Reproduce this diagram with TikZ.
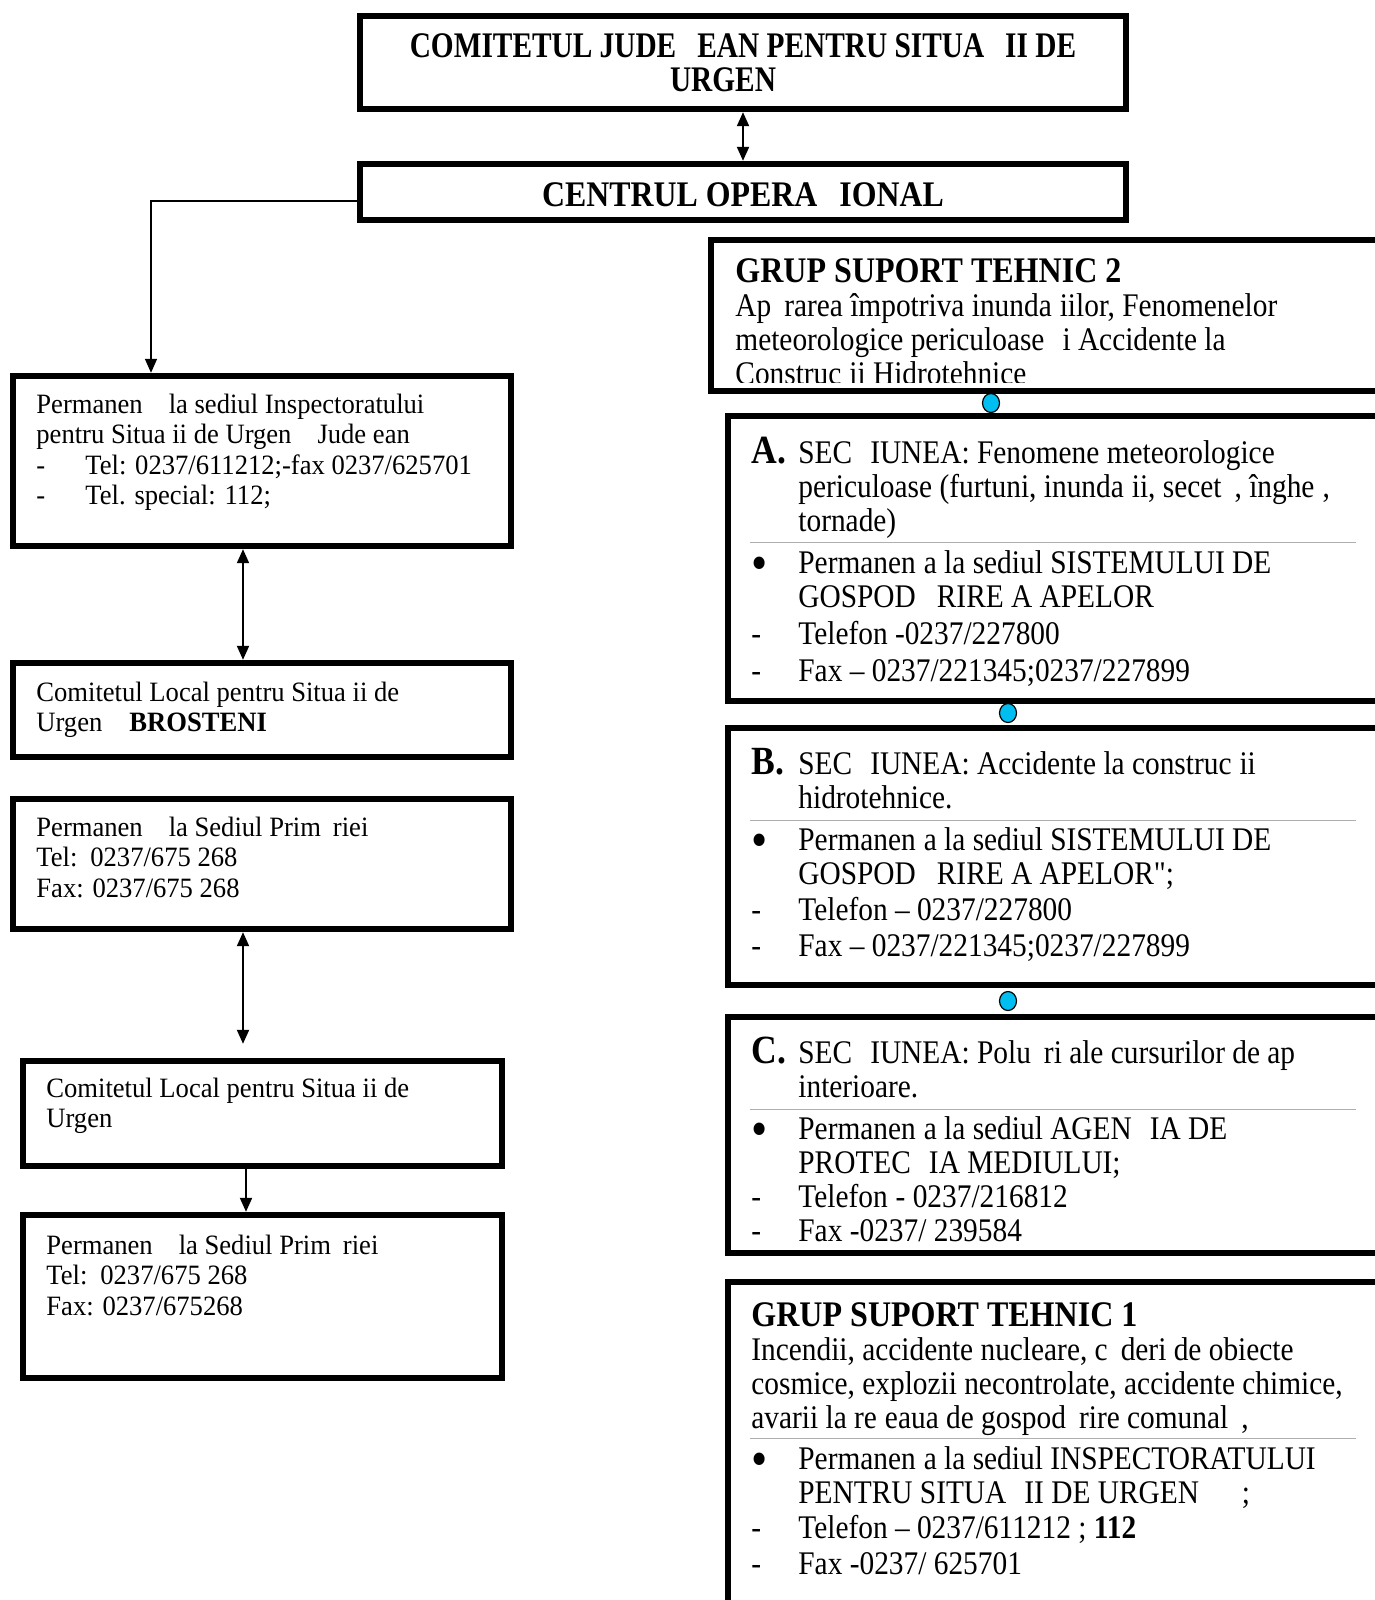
\documentclass[tikz,border=0pt]{standalone}
\usepackage{fontspec}
\setmainfont{Liberation Serif}
\newfontfamily\lfont[FakeStretch=0.95]{Liberation Serif}
\newfontfamily\rfont[FakeStretch=0.89]{Liberation Serif}
\newfontfamily\hfont[FakeStretch=0.89]{Liberation Serif}
\newfontfamily\tfont[FakeStretch=0.815]{Liberation Serif}
\newfontfamily\cfont[FakeStretch=0.885]{Liberation Serif}
\usetikzlibrary{arrows.meta,fit,shapes.geometric}
\newlength\px \setlength\px{0.5pt}
\newcommand\Li[1]{\hbox{#1}}
\newcommand\gp[1]{\hspace*{#1\px}}
\newcommand\headf{\hfont\bfseries\fontsize{18pt}{17pt}\selectfont}
\newcommand\bigA{\hfont\bfseries\fontsize{20pt}{17pt}\selectfont}
\newcommand\bul{\makebox[47\px][l]{\raisebox{-3.9pt}{\fontsize{26pt}{26pt}\selectfont •}}}
\newcommand\dsh{\makebox[47\px][l]{-}}
\newcommand\ldsh{\makebox[49\px][l]{-}}
\definecolor{dotblue}{RGB}{0,190,240}
\definecolor{sepgray}{RGB}{175,175,175}
\tikzset{
 boxframe/.style={draw=black, line width=3.2pt, inner sep=0pt},
 ltxt/.style={anchor=base west, inner sep=0pt, font=\lfont\fontsize{14pt}{15.3pt}\selectfont},
 rtxt/.style={anchor=base west, inner sep=0pt, font=\rfont\fontsize{16.5pt}{17pt}\selectfont},
 htxt/.style={align=center, inner sep=0pt},
 cdot/.style={ellipse, draw=black, line width=0.6pt, fill=dotblue, minimum width=8.5pt, minimum height=9.5pt, inner sep=0pt},
 sepline/.style={draw=sepgray, line width=0.5pt},
 conn/.style={line width=1pt, -{Triangle[width=6pt,length=7pt]}},
 conn2/.style={line width=1pt, {Triangle[width=6pt,length=7pt]}-{Triangle[width=6pt,length=7pt]}},
 thinl/.style={line width=0.75pt},
}
\begin{document}
\begin{tikzpicture}[x=0.5pt,y=-0.5pt]
\useasboundingbox (0,0) rectangle (1375,1600);
\clip (0,0) rectangle (1375,1600);
\fill[white] (0,0) rectangle (1375,1600);

% top boxes
\node[boxframe, fit={(360,16) (1126,109)}] (t) {};
\node[htxt, font=\tfont\bfseries\fontsize{18pt}{17pt}\selectfont] (tt) at (t.center) {COMITETUL JUDE\gp{21}EAN PENTRU SITUA\gp{21}II DE\\URGEN\gp{40}};
\node[boxframe, fit={(360,164) (1126,220)}] (c) {};
\node[htxt, font=\cfont\bfseries\fontsize{18pt}{17pt}\selectfont] (ct) at ([yshift=-1.5pt]c.center) {CENTRUL OPERA\gp{22}IONAL};

% left boxes
\node[boxframe, fit={(13,376) (511,546)}] (L1) {};
\node[boxframe, fit={(13,663) (511,757)}] (L2) {};
\node[boxframe, fit={(13,799) (511,929)}] (L3) {};
\node[boxframe, fit={(23,1061) (502,1166)}] (L4) {};
\node[boxframe, fit={(23,1215) (502,1378)}] (L5) {};

\node[ltxt] (L1t) at (36,413) {\vtop{\Li{Permanen\gp{26}la sediul Inspectoratului}\Li{pentru Situa ii de Urgen\gp{26}Jude ean}\Li{\ldsh Tel: 0237/611212;-fax 0237/625701}\Li{\ldsh Tel. special: 112;}}};
\node[ltxt] (L2t) at (36,701) {\vtop{\Li{Comitetul Local pentru Situa ii de}\Li{Urgen\gp{27}\textbf{BROSTENI}}}};
\node[ltxt] (L3t) at (36,836) {\vtop{\Li{Permanen\gp{26}la Sediul Prim\gp{12}riei}\Li{Tel:\gp{13}0237/675 268}\Li{Fax: 0237/675 268}}};
\node[ltxt] (L4t) at (46,1097) {\vtop{\Li{Comitetul Local pentru Situa ii de}\Li{Urgen}}};
\node[ltxt] (L5t) at (46,1254) {\vtop{\Li{Permanen\gp{26}la Sediul Prim\gp{12}riei}\Li{Tel:\gp{13}0237/675 268}\Li{Fax: 0237/675268}}};

% right boxes
\node[boxframe, fit={(711,240) (1420,391)}] (G2) {};
\node[boxframe, fit={(728,416) (1420,701)}] (A) {};
\node[boxframe, fit={(728,728) (1420,985)}] (B) {};
\node[boxframe, fit={(728,1017) (1420,1253)}] (C) {};
\node[boxframe, fit={(728,1282) (1420,1720)}] (G1) {};

\begin{scope}
\clip (700,240) rectangle (1375,382);
\node[rtxt] (G2t) at (735,282) {\vtop{\Li{\headf GRUP SUPORT TEHNIC 2}\Li{Ap\gp{13}rarea împotriva inunda\gp{8}iilor, Fenomenelor}\Li{meteorologice periculoase\gp{18}i Accidente la}\Li{Construc\gp{8}ii Hidrotehnice}}};
\end{scope}

\node[rtxt] (At) at (751,463) {\vtop{\Li{\makebox[47\px][l]{\bigA A.}SEC\gp{18}IUNEA: Fenomene meteorologice}\Li{\gp{47}periculoase (furtuni, inunda\gp{8}ii, secet\gp{13}, înghe\gp{8},}\Li{\gp{47}tornade)}}};
\node[rtxt] (Al) at (751,573) {\vtop{\Li{\bul Permanen\gp{8}a la sediul SISTEMULUI DE}\Li{\gp{47}GOSPOD\gp{21}RIRE A APELOR}\vskip1.5pt\Li{\dsh Telefon -0237/227800}\vskip1.5pt\Li{\dsh Fax – 0237/221345;0237/227899}}};

\node[rtxt] (Bt) at (751,774) {\vtop{\Li{\makebox[47\px][l]{\bigA B.}SEC\gp{18}IUNEA: Accidente la construc\gp{8}ii}\Li{\gp{47}hidrotehnice.}}};
\node[rtxt] (Bl) at (751,850) {\vtop{\Li{\bul Permanen\gp{8}a la sediul SISTEMULUI DE}\Li{\gp{47}GOSPOD\gp{21}RIRE A APELOR";}\vskip1pt\Li{\dsh Telefon – 0237/227800}\vskip1pt\Li{\dsh Fax – 0237/221345;0237/227899}}};

\node[rtxt] (Ct) at (751,1063) {\vtop{\Li{\makebox[47\px][l]{\bigA C.}SEC\gp{18}IUNEA: Polu\gp{13}ri ale cursurilor de ap}\Li{\gp{47}interioare.}}};
\node[rtxt] (Cl) at (751,1139) {\vtop{\Li{\bul Permanen\gp{8}a la sediul AGEN\gp{18}IA DE}\Li{\gp{47}PROTEC\gp{18}IA MEDIULUI;}\Li{\dsh Telefon\gp{8}- 0237/216812}\Li{\dsh Fax -0237/ 239584}}};

\node[rtxt] (G1t) at (751,1326) {\vtop{\Li{\headf GRUP SUPORT TEHNIC 1}\Li{Incendii, accidente nucleare, c\gp{13}deri de obiecte}\Li{cosmice, explozii necontrolate, accidente chimice,}\Li{avarii la re\gp{8}eaua de gospod\gp{13}rire comunal\gp{13},}}};
\node[rtxt] (G1l) at (751,1469) {\vtop{\Li{\bul Permanen\gp{8}a la sediul INSPECTORATULUI}\Li{\gp{47}PENTRU SITUA\gp{18}II DE URGEN\gp{43};}\vskip0.5pt\Li{\dsh Telefon – 0237/611212 ; \textbf{112}}\vskip1pt\Li{\dsh Fax -0237/ 625701}}};

% separators
\draw[sepline] (750,542) -- (1356,542);
\draw[sepline] (750,820) -- (1356,820);
\draw[sepline] (750,1109) -- (1356,1109);
\draw[sepline] (750,1438) -- (1356,1438);

% dots
\node[cdot] (d1) at (991,403) {};
\node[cdot] (d2) at (1008,713) {};
\node[cdot] (d3) at (1008,1001) {};

% connectors
\coordinate (ax) at (243,0);
\coordinate (bx) at (246,0);
\coordinate (lk) at (151,201);
\draw[conn2] (t.south) -- (c.north);
\draw[thinl, -{Triangle[width=6pt,length=7pt]}] (c.west |- lk) -- (lk) -- (L1.north -| lk);
\draw[conn2] (L1.south -| ax) -- (L2.north -| ax);
\draw[conn2, shorten >=7pt] (L3.south -| ax) -- (L4.north -| ax);
\draw[conn] (L4.south -| bx) -- (L5.north -| bx);
\end{tikzpicture}
\end{document}
